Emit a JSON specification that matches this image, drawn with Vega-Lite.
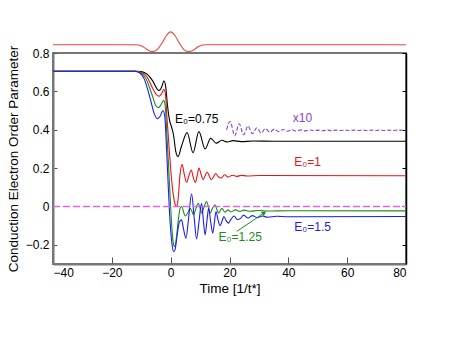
{
  "$schema": "https://vega.github.io/schema/vega-lite/v6.json",
  "width": 353,
  "height": 211,
  "autosize": "none",
  "padding": {"left": 53, "top": 53, "right": 51, "bottom": 89},
  "config": {
    "view": {"stroke": "#777777", "strokeWidth": 2},
    "font": "Liberation Sans",
    "axis": {"labelFont": "Liberation Sans", "titleFont": "Liberation Sans", "grid": false, "labelColor": "#000", "titleColor": "#000", "titleFontWeight": "normal", "labelFontSize": 12, "titleFontSize": 13.5}
  },
  "datasets": {
    "curves": [
      {"s": "b", "t": -40, "v": 0.705}, {"s": "b", "t": -12, "v": 0.705}, {"s": "b", "t": -10, "v": 0.703}, {"s": "b", "t": -8, "v": 0.69}, {"s": "b", "t": -6, "v": 0.652}, {"s": "b", "t": -4.6, "v": 0.612}, {"s": "b", "t": -3.8, "v": 0.605}, {"s": "b", "t": -3, "v": 0.625}, {"s": "b", "t": -2.3, "v": 0.655}, {"s": "b", "t": -1.7, "v": 0.625}, {"s": "b", "t": -1.1, "v": 0.53}, {"s": "b", "t": -0.4, "v": 0.45}, {"s": "b", "t": 0.3, "v": 0.415}, {"s": "b", "t": 1.0, "v": 0.37}, {"s": "b", "t": 1.7, "v": 0.29}, {"s": "b", "t": 2.5, "v": 0.26}, {"s": "b", "t": 3.6, "v": 0.31}, {"s": "b", "t": 5.6, "v": 0.385}, {"s": "b", "t": 7.6, "v": 0.28}, {"s": "b", "t": 9.6, "v": 0.39}, {"s": "b", "t": 11.7, "v": 0.3}, {"s": "b", "t": 13.6, "v": 0.355}, {"s": "b", "t": 15.5, "v": 0.33}, {"s": "b", "t": 17.4, "v": 0.345}, {"s": "b", "t": 19.3, "v": 0.336}, {"s": "b", "t": 21.2, "v": 0.343}, {"s": "b", "t": 24, "v": 0.338}, {"s": "b", "t": 28, "v": 0.341}, {"s": "b", "t": 35, "v": 0.34}, {"s": "b", "t": 80, "v": 0.34},
      {"s": "r", "t": -40, "v": 0.705}, {"s": "r", "t": -12, "v": 0.705}, {"s": "r", "t": -10, "v": 0.7}, {"s": "r", "t": -8, "v": 0.675}, {"s": "r", "t": -6, "v": 0.612}, {"s": "r", "t": -4.6, "v": 0.579}, {"s": "r", "t": -3.8, "v": 0.575}, {"s": "r", "t": -3, "v": 0.59}, {"s": "r", "t": -2.3, "v": 0.61}, {"s": "r", "t": -1.8, "v": 0.59}, {"s": "r", "t": -1.2, "v": 0.45}, {"s": "r", "t": -0.5, "v": 0.3}, {"s": "r", "t": 0.2, "v": 0.16}, {"s": "r", "t": 0.9, "v": 0.06}, {"s": "r", "t": 1.6, "v": 0.008}, {"s": "r", "t": 2.1, "v": 0.0}, {"s": "r", "t": 2.6, "v": 0.05}, {"s": "r", "t": 3.2, "v": 0.17}, {"s": "r", "t": 3.9, "v": 0.218}, {"s": "r", "t": 4.6, "v": 0.17}, {"s": "r", "t": 5.4, "v": 0.125}, {"s": "r", "t": 6.2, "v": 0.16}, {"s": "r", "t": 7.0, "v": 0.19}, {"s": "r", "t": 7.7, "v": 0.15}, {"s": "r", "t": 8.4, "v": 0.125}, {"s": "r", "t": 9.0, "v": 0.16}, {"s": "r", "t": 9.6, "v": 0.2}, {"s": "r", "t": 10.3, "v": 0.17}, {"s": "r", "t": 11.0, "v": 0.14}, {"s": "r", "t": 11.7, "v": 0.16}, {"s": "r", "t": 12.4, "v": 0.18}, {"s": "r", "t": 13.1, "v": 0.16}, {"s": "r", "t": 13.8, "v": 0.14}, {"s": "r", "t": 14.6, "v": 0.155}, {"s": "r", "t": 15.3, "v": 0.172}, {"s": "r", "t": 16.2, "v": 0.155}, {"s": "r", "t": 17.2, "v": 0.148}, {"s": "r", "t": 18.3, "v": 0.165}, {"s": "r", "t": 19.5, "v": 0.153}, {"s": "r", "t": 21, "v": 0.163}, {"s": "r", "t": 22.5, "v": 0.157}, {"s": "r", "t": 24, "v": 0.162}, {"s": "r", "t": 26, "v": 0.159}, {"s": "r", "t": 30, "v": 0.161}, {"s": "r", "t": 80, "v": 0.16},
      {"s": "g", "t": -40, "v": 0.705}, {"s": "g", "t": -12, "v": 0.705}, {"s": "g", "t": -10.5, "v": 0.7}, {"s": "g", "t": -8.5, "v": 0.67}, {"s": "g", "t": -6.5, "v": 0.59}, {"s": "g", "t": -5, "v": 0.525}, {"s": "g", "t": -4.2, "v": 0.515}, {"s": "g", "t": -3.3, "v": 0.53}, {"s": "g", "t": -2.4, "v": 0.553}, {"s": "g", "t": -1.9, "v": 0.53}, {"s": "g", "t": -1.3, "v": 0.38}, {"s": "g", "t": -0.6, "v": 0.18}, {"s": "g", "t": 0, "v": 0.0}, {"s": "g", "t": 0.5, "v": -0.13}, {"s": "g", "t": 1.0, "v": -0.2}, {"s": "g", "t": 1.4, "v": -0.21}, {"s": "g", "t": 1.9, "v": -0.17}, {"s": "g", "t": 2.6, "v": -0.07}, {"s": "g", "t": 3.2, "v": -0.01}, {"s": "g", "t": 3.8, "v": 0.0}, {"s": "g", "t": 4.4, "v": -0.03}, {"s": "g", "t": 5.0, "v": -0.05}, {"s": "g", "t": 5.8, "v": -0.035}, {"s": "g", "t": 6.6, "v": -0.01}, {"s": "g", "t": 7.2, "v": -0.025}, {"s": "g", "t": 7.8, "v": -0.043}, {"s": "g", "t": 8.6, "v": -0.01}, {"s": "g", "t": 9.4, "v": 0.017}, {"s": "g", "t": 10.0, "v": -0.01}, {"s": "g", "t": 10.6, "v": -0.035}, {"s": "g", "t": 11.4, "v": 0.0}, {"s": "g", "t": 12.2, "v": 0.026}, {"s": "g", "t": 12.8, "v": 0.0}, {"s": "g", "t": 13.4, "v": -0.035}, {"s": "g", "t": 14.2, "v": -0.01}, {"s": "g", "t": 15.1, "v": 0.009}, {"s": "g", "t": 15.7, "v": -0.015}, {"s": "g", "t": 16.3, "v": -0.035}, {"s": "g", "t": 17.4, "v": -0.01}, {"s": "g", "t": 18.5, "v": -0.03}, {"s": "g", "t": 19.5, "v": -0.018}, {"s": "g", "t": 20.5, "v": -0.028}, {"s": "g", "t": 22, "v": -0.018}, {"s": "g", "t": 23.5, "v": -0.026}, {"s": "g", "t": 25, "v": -0.019}, {"s": "g", "t": 27, "v": -0.025}, {"s": "g", "t": 30, "v": -0.021}, {"s": "g", "t": 33, "v": -0.024}, {"s": "g", "t": 40, "v": -0.022}, {"s": "g", "t": 80, "v": -0.023},
      {"s": "bl", "t": -40, "v": 0.705}, {"s": "bl", "t": -12.5, "v": 0.705}, {"s": "bl", "t": -11, "v": 0.7}, {"s": "bl", "t": -9, "v": 0.665}, {"s": "bl", "t": -7, "v": 0.565}, {"s": "bl", "t": -5.5, "v": 0.48}, {"s": "bl", "t": -4.5, "v": 0.458}, {"s": "bl", "t": -3.6, "v": 0.47}, {"s": "bl", "t": -2.6, "v": 0.5}, {"s": "bl", "t": -2.0, "v": 0.47}, {"s": "bl", "t": -1.4, "v": 0.3}, {"s": "bl", "t": -0.8, "v": 0.1}, {"s": "bl", "t": -0.2, "v": -0.08}, {"s": "bl", "t": 0.4, "v": -0.19}, {"s": "bl", "t": 1.0, "v": -0.235}, {"s": "bl", "t": 1.5, "v": -0.225}, {"s": "bl", "t": 2.2, "v": -0.15}, {"s": "bl", "t": 3.0, "v": -0.08}, {"s": "bl", "t": 3.7, "v": -0.07}, {"s": "bl", "t": 4.4, "v": -0.12}, {"s": "bl", "t": 5.2, "v": -0.165}, {"s": "bl", "t": 6.1, "v": -0.06}, {"s": "bl", "t": 7.1, "v": 0.066}, {"s": "bl", "t": 8.0, "v": -0.06}, {"s": "bl", "t": 8.8, "v": -0.17}, {"s": "bl", "t": 9.7, "v": -0.07}, {"s": "bl", "t": 10.5, "v": 0.017}, {"s": "bl", "t": 11.1, "v": -0.07}, {"s": "bl", "t": 11.7, "v": -0.148}, {"s": "bl", "t": 12.3, "v": -0.08}, {"s": "bl", "t": 12.9, "v": -0.009}, {"s": "bl", "t": 13.6, "v": -0.08}, {"s": "bl", "t": 14.3, "v": -0.139}, {"s": "bl", "t": 14.9, "v": -0.08}, {"s": "bl", "t": 15.4, "v": -0.026}, {"s": "bl", "t": 16.1, "v": -0.07}, {"s": "bl", "t": 16.8, "v": -0.1}, {"s": "bl", "t": 17.5, "v": -0.075}, {"s": "bl", "t": 18.1, "v": -0.052}, {"s": "bl", "t": 18.9, "v": -0.075}, {"s": "bl", "t": 19.6, "v": -0.087}, {"s": "bl", "t": 20.6, "v": -0.065}, {"s": "bl", "t": 21.6, "v": -0.05}, {"s": "bl", "t": 22.6, "v": -0.068}, {"s": "bl", "t": 23.8, "v": -0.062}, {"s": "bl", "t": 24.8, "v": -0.045}, {"s": "bl", "t": 26.3, "v": -0.06}, {"s": "bl", "t": 27.8, "v": -0.048}, {"s": "bl", "t": 29.5, "v": -0.058}, {"s": "bl", "t": 31.2, "v": -0.05}, {"s": "bl", "t": 33, "v": -0.056}, {"s": "bl", "t": 36, "v": -0.051}, {"s": "bl", "t": 40, "v": -0.054}, {"s": "bl", "t": 80, "v": -0.052}
    ],
    "x10": [
      {"t": 19, "v": 0.4}, {"t": 20.2, "v": 0.443}, {"t": 21.8, "v": 0.369}, {"t": 23.3, "v": 0.431}, {"t": 24.8, "v": 0.374}, {"t": 26.3, "v": 0.42}, {"t": 27.8, "v": 0.379}, {"t": 29.3, "v": 0.41}, {"t": 30.8, "v": 0.383}, {"t": 32.2, "v": 0.406}, {"t": 33.7, "v": 0.387}, {"t": 35.2, "v": 0.403}, {"t": 36.7, "v": 0.39}, {"t": 38.2, "v": 0.401}, {"t": 39.7, "v": 0.392}, {"t": 41.2, "v": 0.4}, {"t": 42.7, "v": 0.393}, {"t": 44.2, "v": 0.399}, {"t": 45.7, "v": 0.394}, {"t": 47.2, "v": 0.399}, {"t": 48.7, "v": 0.395}, {"t": 50.2, "v": 0.398}, {"t": 51.7, "v": 0.395}, {"t": 53.2, "v": 0.398}, {"t": 54.7, "v": 0.395}, {"t": 56.2, "v": 0.398}, {"t": 57.7, "v": 0.396}, {"t": 59.2, "v": 0.398}, {"t": 60.7, "v": 0.396}, {"t": 62.2, "v": 0.398}, {"t": 63.7, "v": 0.396}, {"t": 65.2, "v": 0.398}, {"t": 66.7, "v": 0.396}, {"t": 68.2, "v": 0.398}, {"t": 69.7, "v": 0.396}, {"t": 71.2, "v": 0.398}, {"t": 72.7, "v": 0.396}, {"t": 74.2, "v": 0.398}, {"t": 75.7, "v": 0.396}, {"t": 77.2, "v": 0.398}, {"t": 80, "v": 0.397}
    ],
    "pulse": [
      {"t": -40, "v": 0.843}, {"t": -12, "v": 0.843}, {"t": -11, "v": 0.842}, {"t": -9.5, "v": 0.834}, {"t": -8, "v": 0.818}, {"t": -6.3, "v": 0.807}, {"t": -4.6, "v": 0.818}, {"t": -3, "v": 0.85}, {"t": -1.5, "v": 0.89}, {"t": 0, "v": 0.91}, {"t": 1.5, "v": 0.89}, {"t": 3, "v": 0.85}, {"t": 4.5, "v": 0.818}, {"t": 6.1, "v": 0.807}, {"t": 8, "v": 0.818}, {"t": 9.5, "v": 0.834}, {"t": 11, "v": 0.842}, {"t": 12, "v": 0.843}, {"t": 80, "v": 0.843}
    ],
    "zero": [{"t": -40, "v": 0}, {"t": 80, "v": 0}],
    "labels": [
      {"t": 1.5, "v": 0.455, "txt": "E₀=0.75", "c": "#000000"},
      {"t": 42, "v": 0.233, "txt": "E₀=1", "c": "#e8141c"},
      {"t": 16.3, "v": -0.16, "txt": "E₀=1.25", "c": "#1c8c1c"},
      {"t": 42, "v": -0.107, "txt": "E₀=1.5", "c": "#1c1cf0"},
      {"t": 41.5, "v": 0.462, "txt": "x10", "c": "#8844cc"}
    ],
    "arrow": [{"t": 22.5, "v": -0.13, "t2": 31.8, "v2": -0.033}]
  },
  "resolve": {"axis": {"y": "independent"}, "scale": {"color": "independent"}},
  "layer": [
    {
      "data": {"name": "curves"},
      "mark": {"type": "line", "strokeWidth": 1.1, "interpolate": "monotone"},
      "encoding": {
        "x": {"field": "t", "type": "quantitative", "scale": {"domain": [-40, 80], "nice": false},
          "axis": {"values": [-40, -30, -20, -10, 0, 10, 20, 30, 40, 50, 60, 70, 80], "labelExpr": "datum.value % 20 === 0 ? datum.label : ''", "title": "Time [1/t*]", "tickSize": {"condition": {"test": "datum.value % 20 === 0", "value": -7}, "value": -4}, "labelPadding": 10, "tickColor": "#555", "domainColor": "#777", "domainWidth": 2, "titlePadding": 3, "titleFontSize": 13.5}},
        "y": {"field": "v", "type": "quantitative", "scale": {"domain": [-0.3, 0.8], "nice": false},
          "axis": {"values": [-0.2, 0, 0.2, 0.4, 0.6, 0.8], "labelExpr": "datum.value === 0 ? '0' : format(datum.value, '.1f')", "title": "Conduction Electron Order Parameter", "tickSize": -4, "labelPadding": 8, "tickColor": "#555", "domainColor": "#777", "domainWidth": 2, "titlePadding": 5}},
        "color": {"field": "s", "type": "nominal", "legend": null, "scale": {"domain": ["b", "r", "g", "bl"], "range": ["#000000", "#e8141c", "#1c8c1c", "#1c1cf0"]}},
        "detail": {"field": "s"}
      }
    },
    {
      "data": {"name": "zero"},
      "mark": {"type": "line", "stroke": "#dd66e8", "strokeWidth": 1.5, "strokeDash": [7, 3]},
      "encoding": {
        "x": {"field": "t", "type": "quantitative"},
        "y": {"field": "v", "type": "quantitative", "axis": {"orient": "right", "values": [-0.2, 0, 0.2, 0.4, 0.6, 0.8], "labels": false, "title": null, "tickSize": -4, "tickColor": "#000", "domainColor": "#000", "domainWidth": 1.5}}
      }
    },
    {
      "data": {"name": "x10"},
      "mark": {"type": "line", "stroke": "#8844cc", "strokeWidth": 1.1, "strokeDash": [4, 2], "interpolate": "monotone"},
      "encoding": {
        "x": {"field": "t", "type": "quantitative"},
        "y": {"field": "v", "type": "quantitative", "axis": null}
      }
    },
    {
      "data": {"name": "pulse"},
      "mark": {"type": "line", "stroke": "#ee4444", "strokeWidth": 1.1, "interpolate": "monotone", "clip": false},
      "encoding": {
        "x": {"field": "t", "type": "quantitative"},
        "y": {"field": "v", "type": "quantitative", "axis": null}
      }
    },
    {
      "data": {"name": "arrow"},
      "mark": {"type": "rule", "stroke": "#1c8c1c", "strokeWidth": 1},
      "encoding": {
        "x": {"field": "t", "type": "quantitative"},
        "y": {"field": "v", "type": "quantitative", "axis": null},
        "x2": {"field": "t2"},
        "y2": {"field": "v2"}
      }
    },
    {
      "data": {"name": "arrow"},
      "mark": {"type": "point", "shape": "triangle-up", "filled": true, "size": 28, "angle": 56, "color": "#1c8c1c", "opacity": 1},
      "encoding": {
        "x": {"field": "t2", "type": "quantitative"},
        "y": {"field": "v2", "type": "quantitative", "axis": null}
      }
    },
    {
      "data": {"name": "labels"},
      "mark": {"type": "text", "align": "left", "baseline": "middle", "fontSize": 12, "font": "Liberation Sans"},
      "encoding": {
        "x": {"field": "t", "type": "quantitative"},
        "y": {"field": "v", "type": "quantitative", "axis": null},
        "text": {"field": "txt"},
        "color": {"field": "c", "type": "nominal", "legend": null, "scale": null}
      }
    }
  ]
}
